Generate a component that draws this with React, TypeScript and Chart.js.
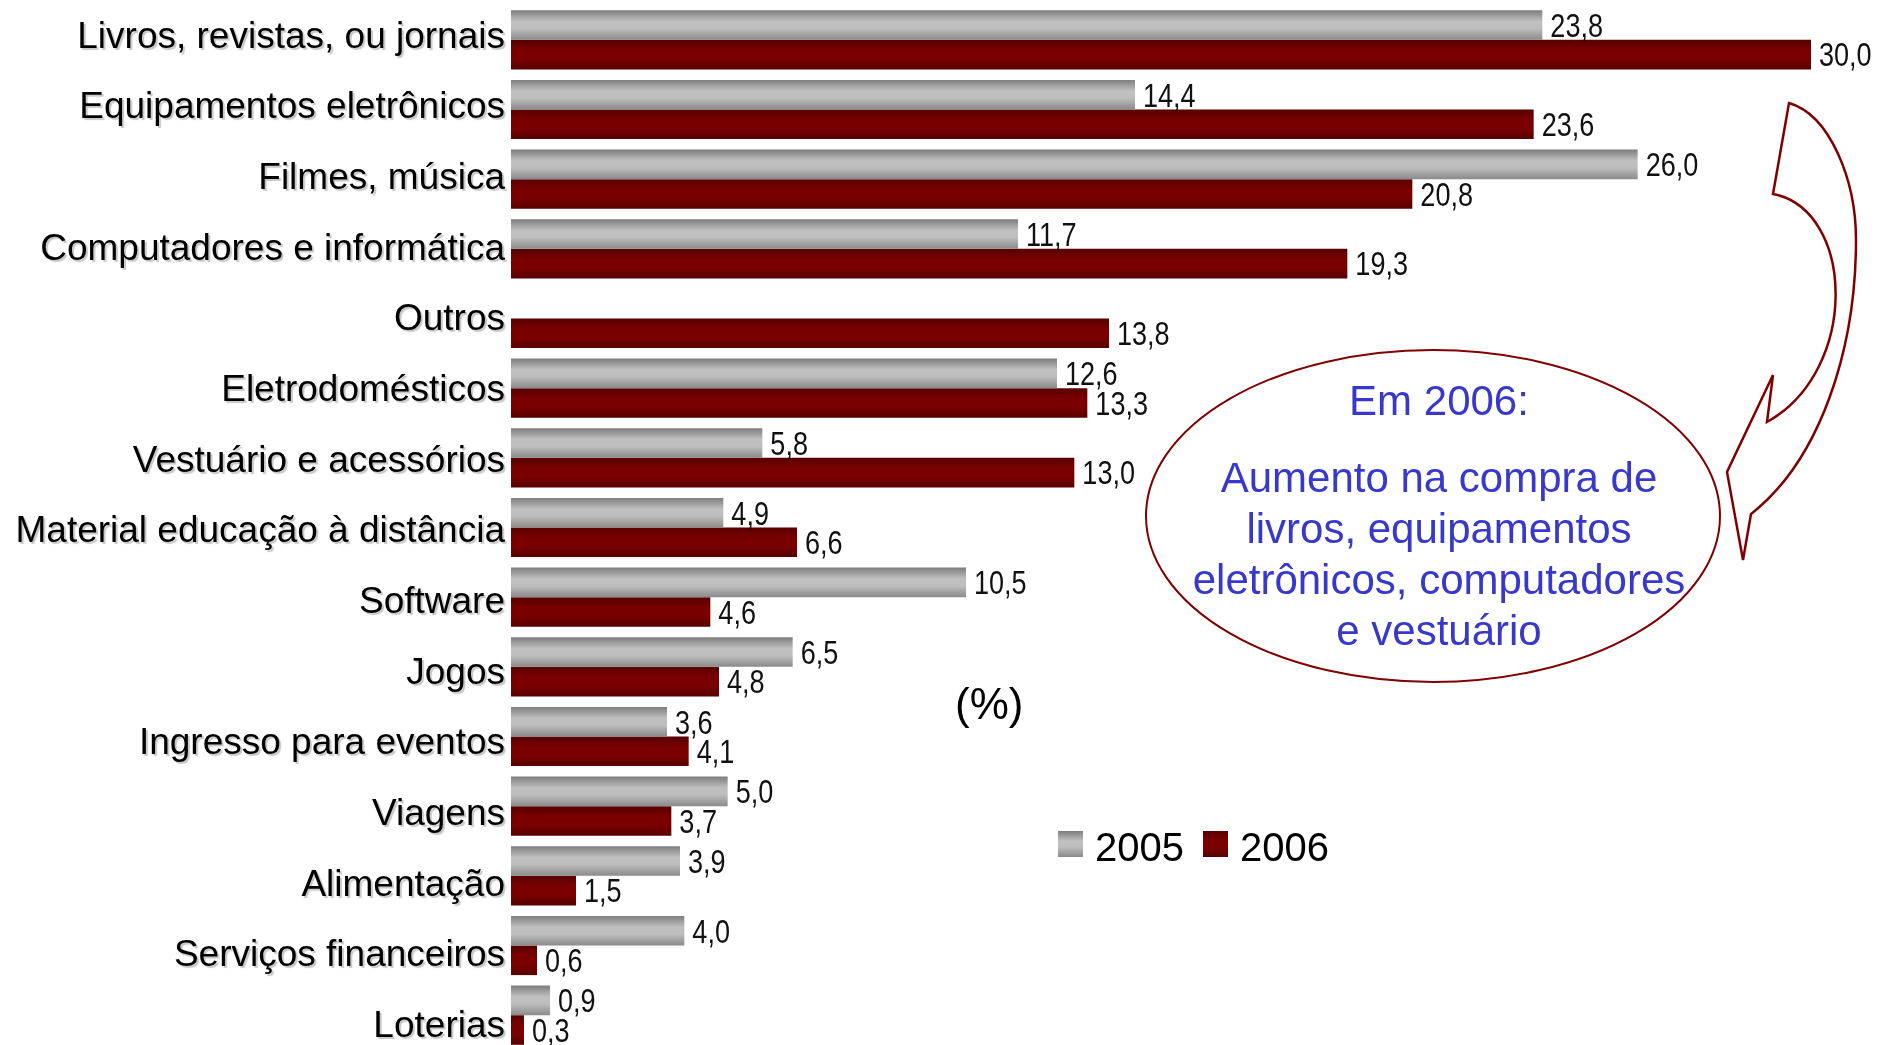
import React, { useEffect, useRef } from "react";
import { Chart, registerables } from "chart.js";

Chart.register(...registerables);

const categories = [
  "Livros, revistas, ou jornais",
  "Equipamentos eletrônicos",
  "Filmes, música",
  "Computadores e informática",
  "Outros",
  "Eletrodomésticos",
  "Vestuário e acessórios",
  "Material educação à distância",
  "Software",
  "Jogos",
  "Ingresso para eventos",
  "Viagens",
  "Alimentação",
  "Serviços financeiros",
  "Loterias",
];

const values2005: (number | null)[] = [23.8, 14.4, 26.0, 11.7, null, 12.6, 5.8, 4.9, 10.5, 6.5, 3.6, 5.0, 3.9, 4.0, 0.9];
const values2006: (number | null)[] = [30.0, 23.6, 20.8, 19.3, 13.8, 13.3, 13.0, 6.6, 4.6, 4.8, 4.1, 3.7, 1.5, 0.6, 0.3];

const seriesLabels = ["2005", "2006"];
const unitLabel = "(%)";
const calloutTitle = "Em 2006:";
const calloutLines = ["Aumento na compra de", "livros, equipamentos", "eletrônicos, computadores", "e vestuário"];

const W = 1877;
const H = 1060;
const CAT_PCT = 0.85;

const grayStops: [number, string][] = [
  [0, "#7d7d7d"],
  [0.38, "#c0c0c0"],
  [0.62, "#bdbdbd"],
  [1, "#8a8a8a"],
];
const redStops: [number, string][] = [
  [0, "#560000"],
  [0.35, "#7a0000"],
  [0.65, "#7a0000"],
  [1, "#560000"],
];

function makeGradient(ctx: any, dsIndex: number, stops: [number, string][], flat: string) {
  const chart = ctx.chart;
  const y = chart.scales && chart.scales.y;
  if (!y || ctx.type !== "data" || !chart.chartArea) return flat;
  const c = y.getPixelForValue(ctx.dataIndex);
  const cat = Math.abs(y.getPixelForValue(1) - y.getPixelForValue(0));
  const half = (cat * CAT_PCT) / 2;
  const top = dsIndex === 0 ? c - half : c;
  const bottom = dsIndex === 0 ? c : c + half;
  if (!isFinite(top) || !isFinite(bottom) || bottom - top < 1) return flat;
  const g = chart.ctx.createLinearGradient(0, top, 0, bottom);
  stops.forEach(([o, col]) => g.addColorStop(o, col));
  return g;
}

function fmt(v: number) {
  return v.toFixed(1).replace(".", ",");
}

const shadowPlugin = {
  id: "labelShadow",
  beforeDraw(chart: any) {
    const c = chart.ctx;
    c.save();
    c.shadowColor = "rgba(0,0,0,0.22)";
    c.shadowOffsetX = 2;
    c.shadowOffsetY = 2;
    c.shadowBlur = 1;
  },
  beforeDatasetsDraw(chart: any) {
    chart.ctx.restore();
  },
};

const NARROW = 0.82;

const valueLabelPlugin = {
  id: "valueLabels",
  afterDatasetsDraw(chart: any) {
    const c = chart.ctx;
    c.save();
    c.font = '33px "Liberation Sans", Arial, sans-serif';
    c.fillStyle = "#111";
    c.textAlign = "left";
    c.textBaseline = "alphabetic";
    chart.data.datasets.forEach((ds: any, di: number) => {
      const meta = chart.getDatasetMeta(di);
      meta.data.forEach((el: any, i: number) => {
        const v = ds.data[i];
        if (v == null) return;
        const p = el.getProps(["x", "y", "height"], true);
        c.save();
        c.translate(p.x + 8, p.y + p.height / 2 - 3);
        c.scale(NARROW, 1);
        c.fillText(fmt(v), 0, 0);
        c.restore();
      });
    });
    c.restore();
  },
};

export default function App() {
  const ref = useRef<HTMLCanvasElement | null>(null);

  useEffect(() => {
    if (!ref.current) return;
    const chart = new Chart(ref.current, {
      type: "bar",
      data: {
        labels: categories,
        datasets: [
          {
            label: seriesLabels[0],
            data: values2005,
            backgroundColor: (ctx: any) => makeGradient(ctx, 0, grayStops, "#aaaaaa"),
            borderWidth: 0,
            categoryPercentage: CAT_PCT,
            barPercentage: 1,
            yAxisID: "y",
          },
          {
            label: seriesLabels[1],
            data: values2006,
            backgroundColor: (ctx: any) => makeGradient(ctx, 1, redStops, "#700000"),
            borderWidth: 0,
            categoryPercentage: CAT_PCT,
            barPercentage: 1,
            yAxisID: "y",
          },
        ],
      },
      options: {
        indexAxis: "y",
        responsive: false,
        animation: false,
        devicePixelRatio: 1,
        layout: { padding: { top: 5, bottom: 10, left: 0, right: 66 } },
        plugins: {
          legend: { display: false },
          tooltip: { enabled: false },
          title: { display: false },
        },
        scales: {
          x: {
            display: false,
            min: 0,
            max: 30,
          },
          y: {
            type: "category",
            display: false,
          },
          labelsAxis: {
            type: "linear",
            axis: "y",
            position: "left",
            reverse: true,
            offset: false,
            grace: 0,
            min: -0.458,
            max: 14.326,
            grid: { display: false, drawTicks: false, offset: false },
            border: { display: false },
            afterBuildTicks(scale: any) {
              scale.ticks = categories.map((_, i) => ({ value: i }));
            },
            ticks: {
              color: "#000",
              padding: 6,
              autoSkip: false,
              callback: (v: any) => categories[Math.round(Number(v))] ?? "",
              font: { family: '"Liberation Sans", Arial, sans-serif', size: 37 },
            },
            afterFit(scale: any) {
              scale.width = 511;
              scale.paddingTop = 0;
              scale.paddingBottom = 0;
            },
          },
        },
      } as any,
      plugins: [shadowPlugin, valueLabelPlugin],
    });
    return () => chart.destroy();
  }, []);

  const legendX = [1058, 1203];
  const legendStops = [grayStops, redStops];

  return (
    <div style={{ position: "absolute", left: 0, top: 0, width: W, height: H, background: "#fff" }}>
      <canvas ref={ref} width={W} height={H} style={{ position: "absolute", left: 0, top: 0, width: W, height: H }} />
      <svg
        width={W}
        height={H}
        style={{ position: "absolute", left: 0, top: 0, pointerEvents: "none" }}
        xmlns="http://www.w3.org/2000/svg"
      >
        <defs>
          {legendStops.map((stops, i) => (
            <linearGradient key={i} id={"lg" + i} x1="0" y1="0" x2="0" y2="1">
              {stops.map(([o, col], j) => (
                <stop key={j} offset={o} stopColor={col} />
              ))}
            </linearGradient>
          ))}
        </defs>
        <text x={955} y={719} fontFamily='"Liberation Sans", Arial, sans-serif' fontSize={44} fill="#000">
          {unitLabel}
        </text>
        {seriesLabels.map((s, i) => (
          <g key={s}>
            <rect x={legendX[i]} y={831} width={25} height={26} fill={`url(#lg${i})`} />
            <text x={legendX[i] + 37} y={861} fontFamily='"Liberation Sans", Arial, sans-serif' fontSize={40} fill="#000">
              {s}
            </text>
          </g>
        ))}
        <ellipse cx={1433} cy={516} rx={287} ry={166} fill="none" stroke="#800000" strokeWidth={2} />
        <path
          d="M 1789 103 C 1830 115 1856 180 1856 240 C 1856 350 1820 460 1751 514 L 1743 560 L 1727 472 L 1773 375 L 1767 422 C 1860 370 1855 210 1773 194 Z"
          fill="none"
          stroke="#800000"
          strokeWidth={2.5}
          strokeLinejoin="miter"
        />
        <g fontFamily='"Liberation Sans", Arial, sans-serif' fontSize={42} fill="#3838cc" textAnchor="middle">
          <text x={1439} y={415}>{calloutTitle}</text>
          {calloutLines.map((l, i) => (
            <text key={i} x={1439} y={492 + i * 51}>
              {l}
            </text>
          ))}
        </g>
      </svg>
    </div>
  );
}
